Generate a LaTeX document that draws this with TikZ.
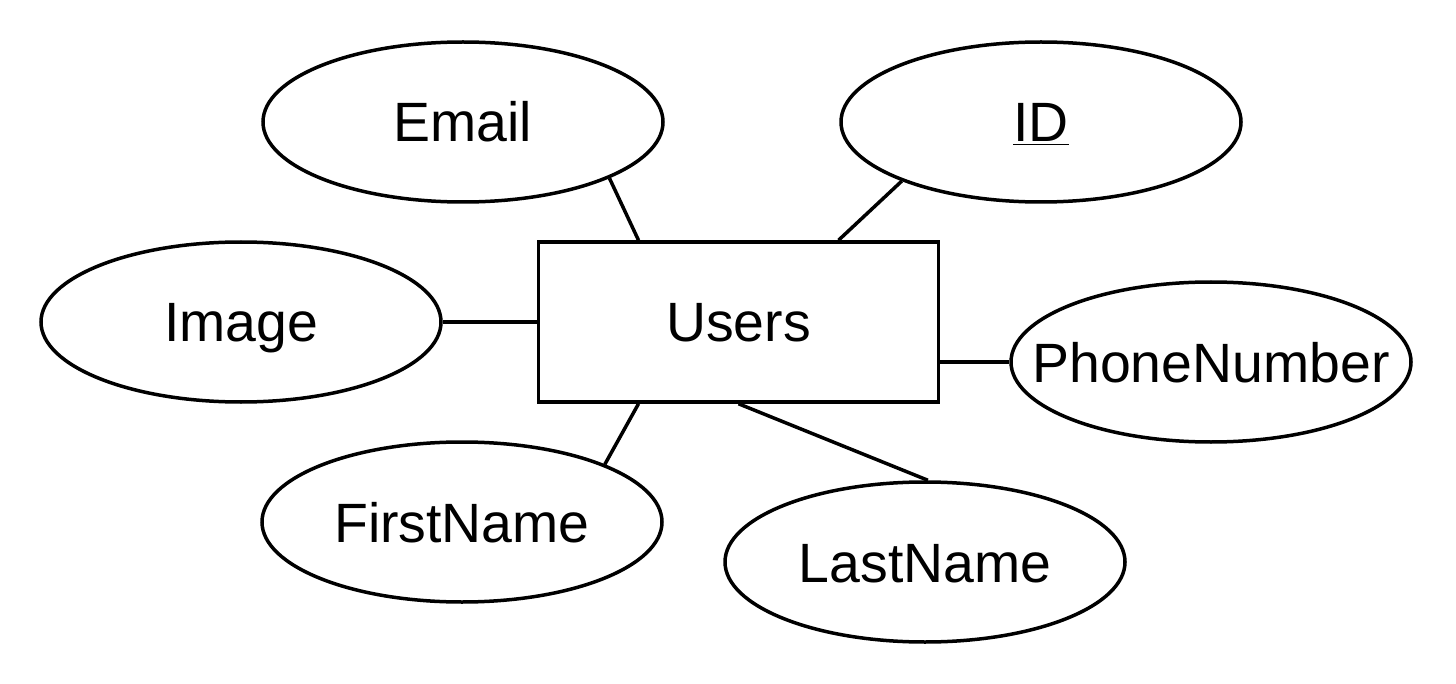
\documentclass[tikz,border=0pt]{standalone}
\usepackage{fontspec}
\setmainfont{Liberation Sans}
\usetikzlibrary{shapes.geometric}
\newcommand{\myuline}[1]{\underline{#1}}
\begin{document}
\begin{tikzpicture}[x=0.5pt,y=-0.5pt,
  attr/.style={ellipse,draw,line width=1.75pt,minimum width=200pt,minimum height=80pt,inner sep=0pt},
  ent/.style={rectangle,draw,line width=1.75pt,minimum width=200pt,minimum height=80pt,inner sep=0pt},
  lbl/.style={font=\fontsize{27.7}{32}\selectfont,text height=20pt,text depth=0pt,inner sep=0pt},
  conn/.style={line width=1.75pt}]
\useasboundingbox (0,0) rectangle (1456,684);
\node[ent,label={[lbl]center:Users}] (users) at (738.5,322) {};
\node[attr,label={[lbl]center:Email}] (email) at (463,122) {};
\node[attr,label={[lbl]center:\myuline{ID}}] (id) at (1041,122) {};
\node[attr,label={[lbl]center:Image}] (image) at (241,322) {};
\node[attr,label={[lbl]center:PhoneNumber}] (phone) at (1211,362) {};
\node[attr,label={[lbl]center:FirstName}] (first) at (462,522) {};
\node[attr,label={[lbl]center:LastName}] (last) at (925,562) {};
\draw[conn] ([xshift=-50pt]users.north) -- (email.-21.8);
\draw[conn] ([xshift=50pt]users.north) -- (id.-157.9);
\draw[conn] (users.west) -- (image.east);
\draw[conn] ([yshift=-20pt]users.east) -- (phone.west);
\draw[conn] ([xshift=-50pt]users.south) -- (first.22.9);
\draw[conn] (users.south) -- (last.88);
\end{tikzpicture}
\end{document}
